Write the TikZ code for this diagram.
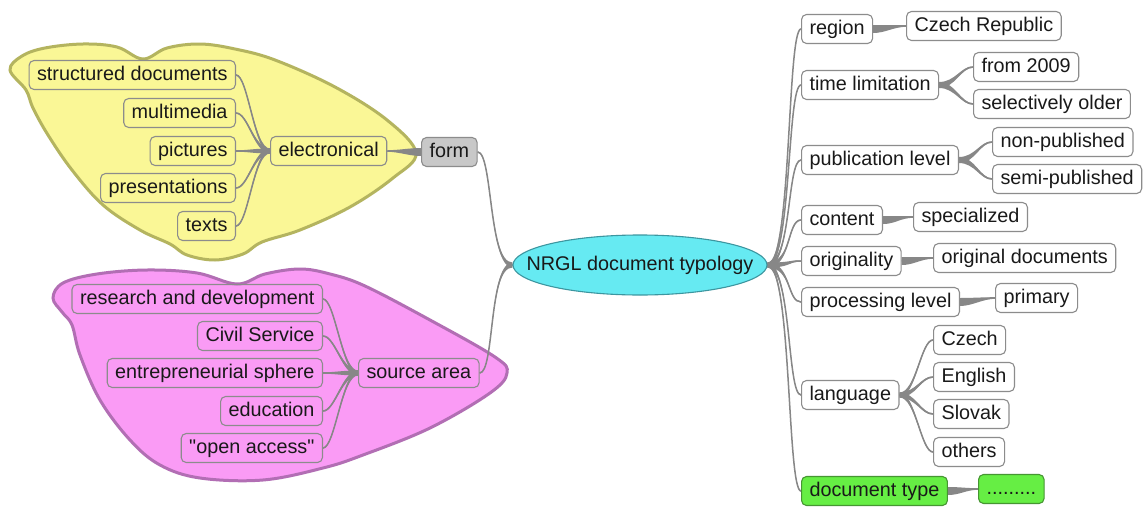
\documentclass[tikz,border=0pt]{standalone}
\usepackage{fontspec}
\setmainfont{Liberation Sans}
\newfontfamily\labelfont{Liberation Sans}
\usetikzlibrary{shapes.geometric,calc}
\definecolor{yfill}{RGB}{250,247,150}
\definecolor{ydraw}{RGB}{180,180,95}
\definecolor{pfill}{RGB}{250,155,245}
\definecolor{pdraw}{RGB}{178,110,180}
\definecolor{boxgray}{RGB}{140,140,140}
\definecolor{conngray}{RGB}{135,135,135}
\definecolor{txt}{RGB}{25,25,25}
\definecolor{cyanfill}{RGB}{102,234,242}
\definecolor{cyandraw}{RGB}{60,150,160}
\definecolor{formfill}{RGB}{200,200,200}
\definecolor{gfill}{RGB}{102,238,68}
\definecolor{gdraw}{RGB}{70,150,50}
\pgfdeclarelayer{blob}
\pgfdeclarelayer{links}
\pgfsetlayers{blob,links,main}
\tikzset{
  box/.style={draw=boxgray, line width=1.1pt, rounded corners=5pt,
    minimum height=29pt, inner xsep=8pt, inner ysep=0pt,
    text height=14.5pt, text depth=4pt,
    font=\labelfont\fontsize{19.8}{22}\selectfont, text=txt},
  formbox/.style={box, fill=formfill},
  greenbox/.style={box, fill=gfill, draw=gdraw},
  rootnode/.style={ellipse, draw=cyandraw, line width=1.1pt, fill=cyanfill,
    minimum width=254pt, minimum height=60pt, inner sep=0pt,
    font=\labelfont\fontsize{19.8}{22}\selectfont, text=txt},
  conn/.style={fill=conngray},
  connline/.style={draw=conngray, line width=1.5pt},
  yblob/.style={fill=yfill, draw=ydraw, line width=3pt},
  pblob/.style={fill=pfill, draw=pdraw, line width=3pt}
}
\newcommand{\mmbranch}[6]{%
  \fill[conn] ($(#1)+(0,#3)$) .. controls +(#5,0) and +(#6,0) .. ($(#2)+(0,#4)$)
    -- ($(#2)-(0,#4)$) .. controls +(#6,0) and +(#5,0) .. ($(#1)-(0,#3)$) -- cycle;
  \draw[connline] (#1) .. controls +(#5,0) and +(#6,0) .. (#2);}
\begin{document}
\begin{tikzpicture}[x=1pt,y=-1pt]
\useasboundingbox (0,0) rectangle (1143,506);

% blobs
\begin{pgfonlayer}{blob}
\fill[white] (0,0) rectangle (1143,506);
\draw[yblob] plot[smooth cycle, tension=0.6] coordinates {
 (10,70) (22,56) (45,48) (83,44) (117,47) (143,59) (167,48) (200,44) (235,49)
 (275,60) (335,87) (387,120) (416,153) (393,178) (350,207) (300,230) (262,242)
 (243,254) (215,260) (187,255) (170,244) (140,230) (103,205) (72,170) (48,135)
 (33,108) (26,90)};
\draw[pblob] plot[smooth cycle, tension=0.6] coordinates {
 (53,298) (63,283) (97,274) (147,270) (197,273) (237,284) (265,274) (300,269)
 (330,274) (365,286) (430,320) (495,357) (507,373) (490,393) (430,428) (363,455)
 (323,468) (263,480) (200,478) (160,465) (130,440) (100,400) (80,355) (72,325)
 (62,312)};
\end{pgfonlayer}

% root
\node[rootnode] (root) at (640,265) {\makebox[0pt][c]{NRGL document typology}};

% left: form branch
\node[formbox, anchor=west] (form) at (421,152) {form};
\node[box, anchor=west] (elec) at (270,151) {electronical};
\node[box, anchor=east] (sdoc) at (236,75) {structured documents};
\node[box, anchor=east] (mm) at (236,113) {multimedia};
\node[box, anchor=east] (pic) at (236,151) {pictures};
\node[box, anchor=east] (pres) at (236,188) {presentations};
\node[box, anchor=east] (texts) at (236,226) {texts};

% left: source area branch
\node[box, anchor=west] (src) at (358,373) {source area};
\node[box, anchor=east] (rd) at (323,299) {research and development};
\node[box, anchor=east] (civ) at (323,336) {Civil Service};
\node[box, anchor=east] (ent) at (323,373) {entrepreneurial sphere};
\node[box, anchor=east] (edu) at (323,411) {education};
\node[box, anchor=east] (oa) at (323,448) {"open access"};

% right side
\node[box, anchor=west] (region) at (801,29) {region};
\node[box, anchor=west] (cz) at (906,26) {Czech Republic};
\node[box, anchor=west] (time) at (801,85) {time limitation};
\node[box, anchor=west] (y09) at (973,67) {from 2009};
\node[box, anchor=west] (older) at (973,104) {selectively older};
\node[box, anchor=west] (pub) at (801,160) {publication level};
\node[box, anchor=west] (nonp) at (992,142) {non-published};
\node[box, anchor=west] (semip) at (992,179) {semi-published};
\node[box, anchor=west] (cont) at (801,220) {content};
\node[box, anchor=west] (spec) at (913,217) {specialized};
\node[box, anchor=west] (orig) at (801,261) {originality};
\node[box, anchor=west] (origdoc) at (933,258) {original documents};
\node[box, anchor=west] (proc) at (801,302) {processing level};
\node[box, anchor=west] (prim) at (995,298) {primary};
\node[box, anchor=west] (lang) at (801,395) {language};
\node[box, anchor=west] (lcz) at (933,340) {Czech};
\node[box, anchor=west] (len) at (933,377) {English};
\node[box, anchor=west] (lsk) at (933,414) {Slovak};
\node[box, anchor=west] (loth) at (933,452) {others};
\node[greenbox, anchor=west] (dtype) at (801,491) {document type};
\node[greenbox, anchor=west, minimum width=58pt] (dots) at (978,489) {.........};

% connectors
\begin{pgfonlayer}{links}
% root to left
\mmbranch{root.west}{form.east}{2.5}{0.7}{-24}{15}
\mmbranch{root.west}{src.east}{2.5}{0.7}{-24}{15}
% form
\mmbranch{form.west}{elec.east}{4}{0.8}{-12}{12}
\foreach \c in {sdoc,mm,pic,pres,texts}{
  \mmbranch{elec.west}{\c.east}{2.5}{0.7}{-16}{12}
}
\foreach \c in {rd,civ,ent,edu,oa}{
  \mmbranch{src.west}{\c.east}{2.5}{0.7}{-16}{12}
}
% root to right
\foreach \c in {region,time,pub,cont,orig,proc,lang,dtype}{
  \mmbranch{root.east}{\c.west}{2.5}{0.7}{24}{-14}
}
\mmbranch{region.east}{cz.west}{4}{0.8}{12}{-12}
\mmbranch{time.east}{y09.west}{3}{0.7}{16}{-12}
\mmbranch{time.east}{older.west}{3}{0.7}{16}{-12}
\mmbranch{pub.east}{nonp.west}{3}{0.7}{16}{-12}
\mmbranch{pub.east}{semip.west}{3}{0.7}{16}{-12}
\mmbranch{cont.east}{spec.west}{4}{0.8}{12}{-12}
\mmbranch{orig.east}{origdoc.west}{4}{0.8}{12}{-12}
\mmbranch{proc.east}{prim.west}{4}{0.8}{12}{-12}
\foreach \c in {lcz,len,lsk,loth}{
  \mmbranch{lang.east}{\c.west}{2.5}{0.7}{16}{-12}
}
\mmbranch{dtype.east}{dots.west}{4}{0.8}{12}{-12}
\end{pgfonlayer}
\end{tikzpicture}
\end{document}
